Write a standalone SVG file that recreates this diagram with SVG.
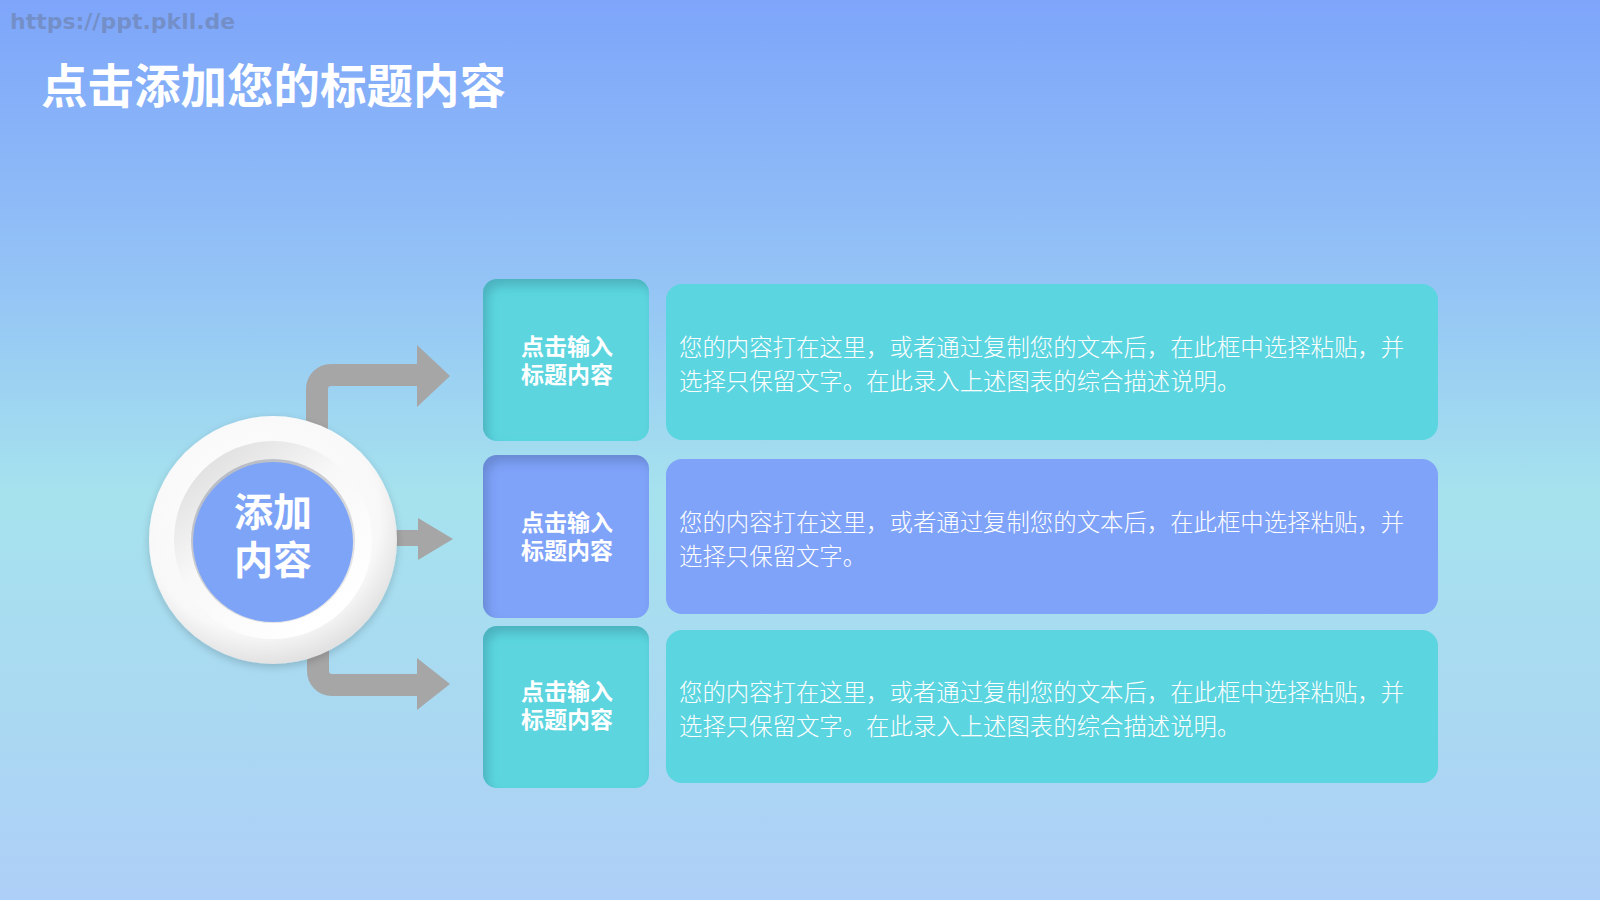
<svg xmlns="http://www.w3.org/2000/svg" width="1600" height="900" viewBox="0 0 1600 900">
<defs>
<linearGradient id="bg" x1="0" y1="0" x2="0" y2="1">
<stop offset="0" stop-color="#7ea5fa"/>
<stop offset="0.3" stop-color="#93c2f6"/>
<stop offset="0.55" stop-color="#a6e2ee"/>
<stop offset="0.8" stop-color="#aad8f2"/>
<stop offset="1" stop-color="#aecff7"/>
</linearGradient>
<radialGradient id="outerG" cx="0.45" cy="0.4" r="0.6">
<stop offset="0" stop-color="#ffffff"/>
<stop offset="0.8" stop-color="#f8f8f8"/>
<stop offset="1" stop-color="#e2e2e2"/>
</radialGradient>
<linearGradient id="midG" x1="0.2" y1="0.1" x2="0.8" y2="0.9">
<stop offset="0" stop-color="#e2e2e2"/>
<stop offset="0.4" stop-color="#f8f8f8"/>
<stop offset="1" stop-color="#ffffff"/>
</linearGradient>
<linearGradient id="rimG" x1="0.2" y1="0.1" x2="0.8" y2="0.9">
<stop offset="0" stop-color="#b8bcc4"/>
<stop offset="1" stop-color="#e8e8e8"/>
</linearGradient>
<filter id="inset" x="-10%" y="-10%" width="120%" height="120%">
<feComponentTransfer in="SourceAlpha" result="inv"><feFuncA type="table" tableValues="1 0"/></feComponentTransfer>
<feGaussianBlur in="inv" stdDeviation="5"/>
<feOffset dx="5" dy="7" result="ob"/>
<feFlood flood-color="#1a3a60" flood-opacity="0.35"/>
<feComposite in2="ob" operator="in"/>
<feComposite in2="SourceAlpha" operator="in" result="sh"/>
<feMerge><feMergeNode in="SourceGraphic"/><feMergeNode in="sh"/></feMerge>
</filter>
<filter id="soft" x="-20%" y="-20%" width="140%" height="140%">
<feGaussianBlur in="SourceAlpha" stdDeviation="4"/>
<feOffset dx="0" dy="3"/>
<feComponentTransfer><feFuncA type="linear" slope="0.18"/></feComponentTransfer>
<feMerge><feMergeNode/><feMergeNode in="SourceGraphic"/></feMerge>
</filter>
</defs>
<style>
.cjk{font-family:"Noto Sans CJK SC","Noto Sans",sans-serif;}
.title{font-size:46.5px;font-weight:700;fill:#ffffff;}
.wm{font-family:"DejaVu Sans","Liberation Sans",sans-serif;font-size:22px;font-weight:700;fill:#6a7a9c;fill-opacity:0.55;}
.lbl{font-size:23px;font-weight:700;fill:#ffffff;text-anchor:middle;}
.desc{font-size:23.4px;font-weight:300;fill:#ffffff;}
.ctext{font-size:39px;font-weight:700;fill:#ffffff;text-anchor:middle;}
.teal{fill:#5bd5df;}
.blue{fill:#7fa3f9;}
.arrowline{fill:none;stroke:#a6a6a6;}
.arrowhead{fill:#a6a6a6;}
</style>
<rect x="0" y="0" width="1600" height="900" fill="url(#bg)"/>
<text x="10" y="29" class="wm">https://ppt.pkll.de</text>
<text x="41" y="103" class="cjk title">点击添加您的标题内容</text>

<g id="connectors">
<path class="arrowline" stroke-width="22" d="M317,440 V389 A14,14 0 0 1 331,375 H420"/>
<polygon class="arrowhead" points="417,345 450,376 417,407"/>
<path class="arrowline" stroke-width="16" d="M380,538 H420"/>
<polygon class="arrowhead" points="418,518 453,539 418,560"/>
<path class="arrowline" stroke-width="22" d="M318,640 V671 A14,14 0 0 0 332,685 H420"/>
<polygon class="arrowhead" points="417,658 450,684 417,710"/>
</g>

<g id="center">
<circle cx="273" cy="540" r="124" fill="url(#outerG)" filter="url(#soft)"/>
<circle cx="273" cy="540" r="99" fill="url(#midG)"/>
<circle cx="273" cy="541" r="82" fill="url(#rimG)"/>
<circle cx="273" cy="542" r="80" fill="#7ea4f8"/>
<text x="273" y="526" class="cjk ctext">添加</text>
<text x="273" y="574" class="cjk ctext">内容</text>
</g>

<g id="label1">
<rect x="483" y="279" width="166" height="162" rx="14" class="teal" filter="url(#inset)"/>
<text x="567" y="355" class="cjk lbl">点击输入</text>
<text x="567" y="383" class="cjk lbl">标题内容</text>
</g>
<g id="desc1">
<rect x="666" y="284" width="772" height="156" rx="16" class="teal"/>
<text x="679" y="356" class="cjk desc">您的内容打在这里，或者通过复制您的文本后，在此框中选择粘贴，并</text>
<text x="679" y="390" class="cjk desc">选择只保留文字。在此录入上述图表的综合描述说明。</text>
</g>

<g id="label2">
<rect x="483" y="455" width="166" height="163" rx="14" class="blue" filter="url(#inset)"/>
<text x="567" y="531" class="cjk lbl">点击输入</text>
<text x="567" y="559" class="cjk lbl">标题内容</text>
</g>
<g id="desc2">
<rect x="666" y="459" width="772" height="155" rx="16" class="blue"/>
<text x="679" y="531" class="cjk desc">您的内容打在这里，或者通过复制您的文本后，在此框中选择粘贴，并</text>
<text x="679" y="565" class="cjk desc">选择只保留文字。</text>
</g>

<g id="label3">
<rect x="483" y="626" width="166" height="162" rx="14" class="teal" filter="url(#inset)"/>
<text x="567" y="700" class="cjk lbl">点击输入</text>
<text x="567" y="728" class="cjk lbl">标题内容</text>
</g>
<g id="desc3">
<rect x="666" y="630" width="772" height="153" rx="16" class="teal"/>
<text x="679" y="701" class="cjk desc">您的内容打在这里，或者通过复制您的文本后，在此框中选择粘贴，并</text>
<text x="679" y="735" class="cjk desc">选择只保留文字。在此录入上述图表的综合描述说明。</text>
</g>
</svg>
